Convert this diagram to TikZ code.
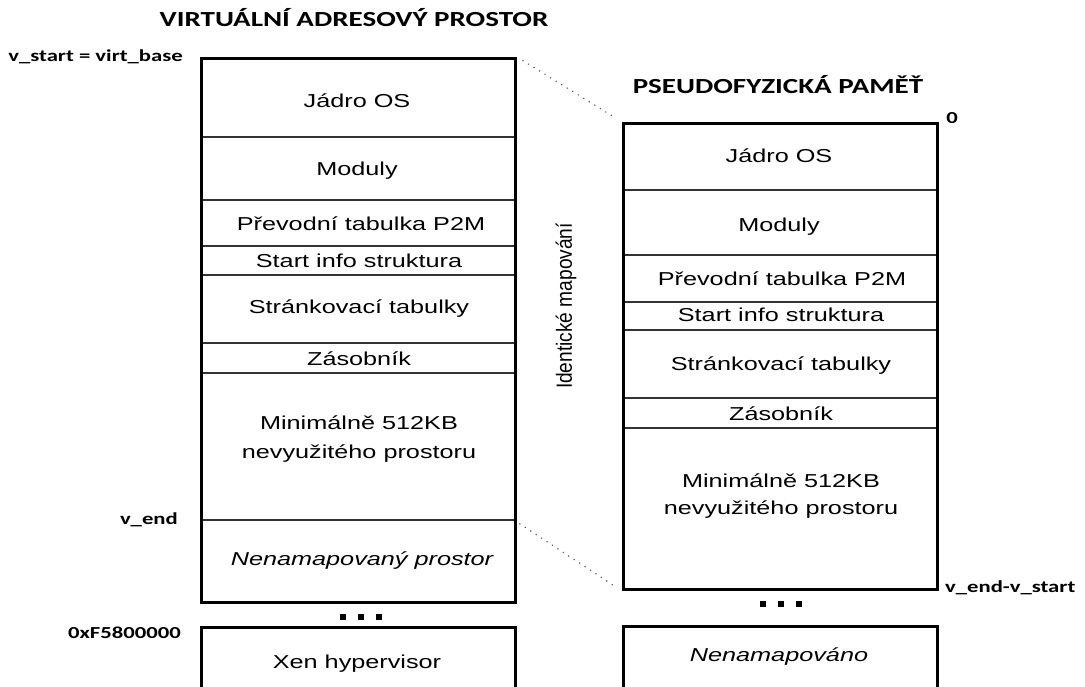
\documentclass[tikz,border=0pt]{standalone}
\usepackage{fontspec}
\setmainfont[FakeStretch=1.35]{Liberation Sans}
\newfontfamily\labfont[FakeStretch=1.35]{Carlito}
\newfontfamily\sidefont[FakeStretch=0.87]{Liberation Sans}
\begin{document}
\begin{tikzpicture}[x=1pt,y=-1pt,
  frame/.style={draw=black, line width=3pt, inner sep=0, anchor=north west},
  sep/.style={draw=black!80, line width=1.3pt},
  txt/.style={font=\fontsize{18.7}{22}\selectfont, anchor=base, inner sep=0},
  itxt/.style={txt, font=\fontsize{18.7}{22}\selectfont\itshape},
  lab/.style={font=\labfont\bfseries\fontsize{16.8}{20}\selectfont, inner sep=0},
  ttl/.style={font=\labfont\bfseries\fontsize{21.5}{26}\selectfont, inner sep=0},
  map/.style={draw=black!65, line width=1.6pt, line cap=round, dash pattern=on 0pt off 6.5pt},
  sqdot/.style={fill=black, minimum size=6pt, inner sep=0}
]
\useasboundingbox (0,0) rectangle (1085,686);

% ---------- virtual address space ----------
\node[ttl] (vtitle) at (354,18) {VIRTUÁLNÍ ADRESOVÝ PROSTOR};
\foreach \y in {137,200,246,275,343,373} \draw[sep] (200,\y) -- (514,\y);
\draw[sep] (200,520) -- (514,520);
\node[frame, minimum width=314pt, minimum height=544pt] (vas) at (200,57) {};
\coordinate (vend) at (514,520);

\node[txt] (v1) at (357,107) {Jádro OS};
\node[txt] (v2) at (357,175) {Moduly};
\node[txt] (v3) at (361,230) {Převodní tabulka P2M};
\node[txt] (v4) at (359,267) {Start info struktura};
\node[txt] (v5) at (359,313) {Stránkovací tabulky};
\node[txt] (v6) at (359,365) {Zásobník};
\node[txt] (v7) at (359,429) {Minimálně 512KB};
\node[txt] (v8) at (359,458) {nevyužitého prostoru};
\node[itxt] (v9) at (362,565) {Nenamapovaný prostor};

\node[lab, anchor=east] (lstart) at (183,57) {v\_start = virt\_base};
\node[lab, anchor=east] (lend) at (178,520) {v\_end};
\node[lab, anchor=east] (lxen) at (181,633) {0xF5800000};

\node[sqdot] (vd1) at (343,617) {};
\node[sqdot] (vd2) at (361,617) {};
\node[sqdot] (vd3) at (379,617) {};

\node[frame, minimum width=314pt, minimum height=100pt] (xen) at (200,626) {};
\node[txt] (xent) at (357,668) {Xen hypervisor};

% ---------- pseudo-physical memory ----------
\node[ttl] (ptitle) at (778,85) {PSEUDOFYZICKÁ PAMĚŤ};
\foreach \y in {190,255,302,330,398,428} \draw[sep] (622,\y) -- (936,\y);
\node[frame, minimum width=314pt, minimum height=466pt] (pm) at (622,122) {};

\node[txt] (p1) at (779,162) {Jádro OS};
\node[txt] (p2) at (779,231) {Moduly};
\node[txt] (p3) at (782,285) {Převodní tabulka P2M};
\node[txt] (p4) at (781,321) {Start info struktura};
\node[txt] (p5) at (781,370) {Stránkovací tabulky};
\node[txt] (p6) at (781,420) {Zásobník};
\node[txt] (p7) at (781,487) {Minimálně 512KB};
\node[txt] (p8) at (781,514) {nevyužitého prostoru};

\node[lab] (lzero) at (952,118) {0};
\node[lab, anchor=west] (lpend) at (945,588) {v\_end-v\_start};

\node[sqdot] (pd1) at (763,604) {};
\node[sqdot] (pd2) at (781,604) {};
\node[sqdot] (pd3) at (799,604) {};

\node[frame, minimum width=314pt, minimum height=100pt] (nm) at (622,625) {};
\node[itxt] (nmt) at (779,661) {Nenamapováno};

% ---------- identity mapping ----------
\node[rotate=90, inner sep=0, font=\sidefont\fontsize{22}{25}\selectfont] (idm) at (566,306) {Identické mapování};
\draw[map, shorten <=7pt, shorten >=7pt] (vas.north east) -- (pm.north west);
\draw[map, shorten <=7pt, shorten >=7pt] (vend) -- (pm.south west);
\end{tikzpicture}
\end{document}
